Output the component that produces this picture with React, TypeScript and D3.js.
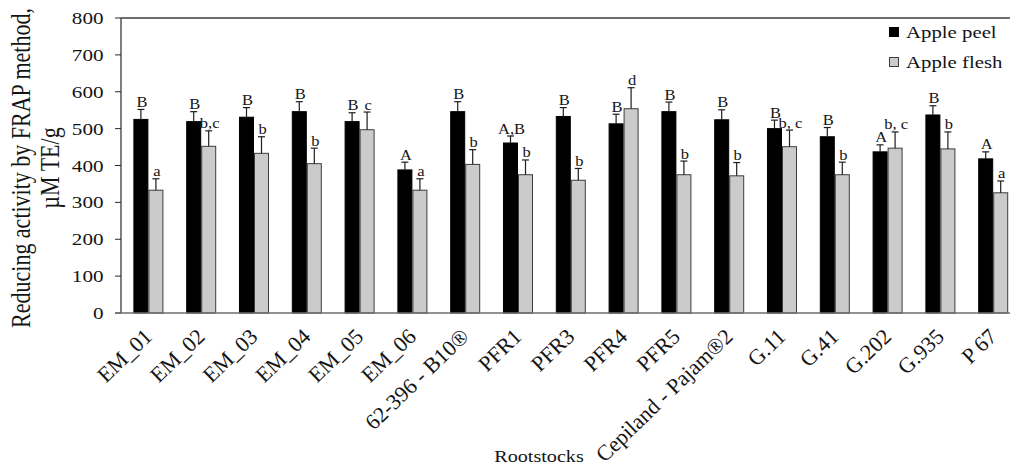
import React from "react";
import * as d3 from "d3";

// Rootstock categories along the x axis
const rootstocks = [
  "EM_01", "EM_02", "EM_03", "EM_04", "EM_05", "EM_06", "62-396 - B10®",
  "PFR1", "PFR3", "PFR4", "PFR5", "Cepiland - Pajam®2",
  "G.11", "G.41", "G.202", "G.935", "P 67",
];

// Reducing activity (µM TE/g) and standard deviation for apple peel
const peelValues = [525, 519, 531, 546, 519, 388, 546, 461, 533, 513, 546, 524, 500, 478, 437, 537, 418];
const peelErrors = [27, 27, 26, 27, 24, 21, 27, 19, 24, 26, 26, 27, 23, 25, 19, 25, 19];
const peelLetters = ["B", "B", "B", "B", "B", "A", "B", "A,B", "B", "B", "B", "B", "B", "B", "A", "B", "A"];

// Reducing activity (µM TE/g) and standard deviation for apple flesh
const fleshValues = [333, 452, 433, 405, 497, 333, 403, 375, 360, 554, 375, 372, 451, 375, 447, 445, 326];
const fleshErrors = [31, 42, 45, 42, 48, 31, 40, 40, 32, 57, 37, 36, 45, 34, 44, 46, 32];
const fleshLetters = ["a", "b,c", "b", "b", "c", "a", "b", "b", "b", "d", "b", "b", "b, c", "b", "b, c", "b", "a"];

const yTicks = [0, 100, 200, 300, 400, 500, 600, 700, 800];
const seriesNames = ["Apple peel", "Apple flesh"];

const W = 1010;
const H = 466;
const FONT = "'Liberation Serif', 'Times New Roman', serif";
const TEXT = "#141414";

const series = [
  { key: "peel", name: seriesNames[0], values: peelValues, errors: peelErrors, letters: peelLetters, fill: "#000000", stroke: "#000000" },
  { key: "flesh", name: seriesNames[1], values: fleshValues, errors: fleshErrors, letters: fleshLetters, fill: "#cbcbcb", stroke: "#3c3c3c" },
];

type STextProps = {
  x: number; y: number; sx?: number; rot?: number; size: number;
  anchor?: "start" | "middle" | "end"; children: React.ReactNode;
};

function SText({ x, y, sx = 1, rot = 0, size, anchor = "start", children }: STextProps) {
  return (
    <text
      transform={`translate(${x},${y}) scale(${sx},1) rotate(${rot})`}
      textAnchor={anchor}
      fontSize={size}
      fontFamily={FONT}
      fill={TEXT}
    >
      {children}
    </text>
  );
}

export default function App() {
  const left = 121;
  const top = 18;
  const bottom = 313;

  const x = d3.scaleBand<string>().domain(rootstocks).range([122, 1019.6]).paddingInner(0).paddingOuter(0);
  const xs = d3.scaleBand<string>().domain(series.map((s) => s.key)).range([0, x.bandwidth()]).paddingInner(0).paddingOuter(0.76);
  const y = d3.scaleLinear().domain([0, 800]).range([bottom, top]);

  const bw = xs.bandwidth();

  return (
    <svg
      width={W}
      height={H}
      viewBox={`0 0 ${W} ${H}`}
      style={{ position: "absolute", left: 0, top: 0, background: "#ffffff" }}
    >
      <rect x={0} y={0} width={W} height={H} fill="#ffffff" />

      {/* top border of the plot area */}
      <line x1={left} x2={W} y1={top} y2={top} stroke="#6e6e6e" strokeWidth={2} />

      {/* bars, error bars and significance letters */}
      {series.map((s) => (
        <g key={s.key}>
          {rootstocks.map((c, i) => {
            const bx = (x(c) ?? 0) + (xs(s.key) ?? 0);
            const v = s.values[i];
            const e = s.errors[i];
            const cx = bx + bw / 2;
            return (
              <g key={c}>
                <rect
                  x={bx + 0.5}
                  y={y(v)}
                  width={bw - 1}
                  height={bottom - y(v)}
                  fill={s.fill}
                  stroke={s.stroke}
                  strokeWidth={1}
                />
                <line x1={cx} x2={cx} y1={y(v)} y2={y(v + e)} stroke="#1e1e1e" strokeWidth={1.2} />
                <line x1={cx - 3.5} x2={cx + 3.5} y1={y(v + e)} y2={y(v + e)} stroke="#1e1e1e" strokeWidth={1.2} />
                <SText x={cx + 1} y={y(v + e) - 2.5} size={15} sx={1.1} anchor="middle">
                  {s.letters[i]}
                </SText>
              </g>
            );
          })}
        </g>
      ))}

      {/* y axis */}
      <line x1={left} x2={left} y1={top} y2={bottom} stroke="#2a2a2a" strokeWidth={1.2} />
      {yTicks.map((t) => (
        <g key={t}>
          <line x1={left - 6} x2={left} y1={y(t)} y2={y(t)} stroke="#2a2a2a" strokeWidth={1} />
          <SText x={103.5} y={y(t) + 6} size={16} sx={1.32} anchor="end">
            {t}
          </SText>
        </g>
      ))}

      {/* x axis */}
      <line x1={left - 6} x2={W} y1={bottom} y2={bottom} stroke="#6e6e6e" strokeWidth={1.5} />
      {rootstocks.map((c) => (
        <SText key={c} x={(x(c) ?? 0) + x.bandwidth() / 2 + 5} y={bottom + 25} size={22} rot={-44} anchor="end">
          {c}
        </SText>
      ))}

      {/* axis titles */}
      <SText x={30} y={168} size={22} sx={1.2} rot={-90} anchor="middle">
        Reducing activity by FRAP method,
      </SText>
      <SText x={59} y={168} size={22} sx={1.2} rot={-90} anchor="middle">
        µM TE/g
      </SText>
      <SText x={539} y={462} size={16} sx={1.26} anchor="middle">
        Rootstocks
      </SText>

      {/* legend */}
      {series.map((s, i) => (
        <g key={s.key}>
          <rect x={889.5} y={27.5 + i * 30} width={9} height={9} fill={s.fill} stroke={s.stroke} strokeWidth={1} />
          <SText x={906} y={37.5 + i * 30} size={16} sx={1.3}>
            {s.name}
          </SText>
        </g>
      ))}
    </svg>
  );
}
